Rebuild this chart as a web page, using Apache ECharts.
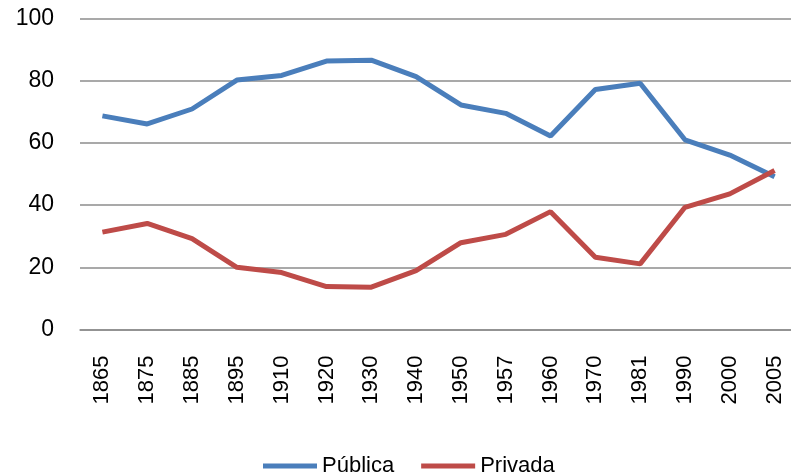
<!DOCTYPE html>
<html>
<head>
<meta charset="utf-8">
<script src="https://cdn.jsdelivr.net/npm/echarts@6/dist/echarts.min.js"></script>
<style>
  html, body { margin: 0; padding: 0; background: #fff; }
  #chart { width: 791px; height: 473px; }
</style>
</head>
<body>
<div id="chart"></div>
<script>
const years = ['1865', '1875', '1885', '1895', '1910', '1920', '1930', '1940',
    '1950', '1957', '1960', '1970', '1981', '1990', '2000', '2005']
const publica = [68.7, 66.1, 70.9, 80.2, 81.7, 86.3, 86.6, 81.3,
    72.2, 69.5, 62.2, 77.2, 79.2, 61.0, 56.1, 49.1]
const privada = [31.3, 34.1, 29.2, 20.0, 18.3, 13.8, 13.6, 18.9,
    27.9, 30.6, 37.9, 23.2, 21.1, 39.3, 43.6, 51.1]
const yTicks = [0, 20, 40, 60, 80, 100]

const gridColor = '#8c8c8c'

const chart = echarts.init(document.getElementById('chart'))

const option = {
    animation: false,
    grid: {
        left: 80,
        right: -6,
        top: 18.5,
        bottom: 143.5,
        containLabel: false,
        outerBoundsMode: 'none'
    },
    legend: {
        left: 258,
        top: 450,
        icon: 'rect',
        itemWidth: 54,
        itemHeight: 5,
        itemGap: 27,
        textStyle: {
            fontFamily: '"Liberation Sans", sans-serif',
            fontSize: 22,
            color: '#000'
        },
        data: ['Pública', 'Privada']
    },
    xAxis: {
        type: 'category',
        data: years,
        boundaryGap: true,
        axisLine: { lineStyle: { color: gridColor, width: 1.5 } },
        axisTick: { show: false },
        axisLabel: {
            interval: 0,
            rotate: 90,
            margin: 26,
            color: '#000',
            fontFamily: '"Liberation Sans", sans-serif',
            fontSize: 22
        }
    },
    yAxis: {
        type: 'value',
        min: yTicks[0],
        max: yTicks[yTicks.length - 1],
        interval: 20,
        axisLine: { show: false },
        axisTick: { show: false },
        splitLine: { lineStyle: { color: gridColor, width: 1.5 } },
        axisLabel: {
            margin: 26,
            color: '#000',
            fontFamily: '"Liberation Sans", sans-serif',
            fontSize: 23
        }
    },
    series: [
        {
            name: 'Pública',
            type: 'line',
            data: publica,
            symbol: 'none',
            lineStyle: { color: '#4a7ebb', width: 5 },
            itemStyle: { color: '#4a7ebb' }
        },
        {
            name: 'Privada',
            type: 'line',
            data: privada,
            symbol: 'none',
            lineStyle: { color: '#be4b48', width: 5 },
            itemStyle: { color: '#be4b48' }
        }
    ]
}

chart.setOption(option)
</script>
</body>
</html>
